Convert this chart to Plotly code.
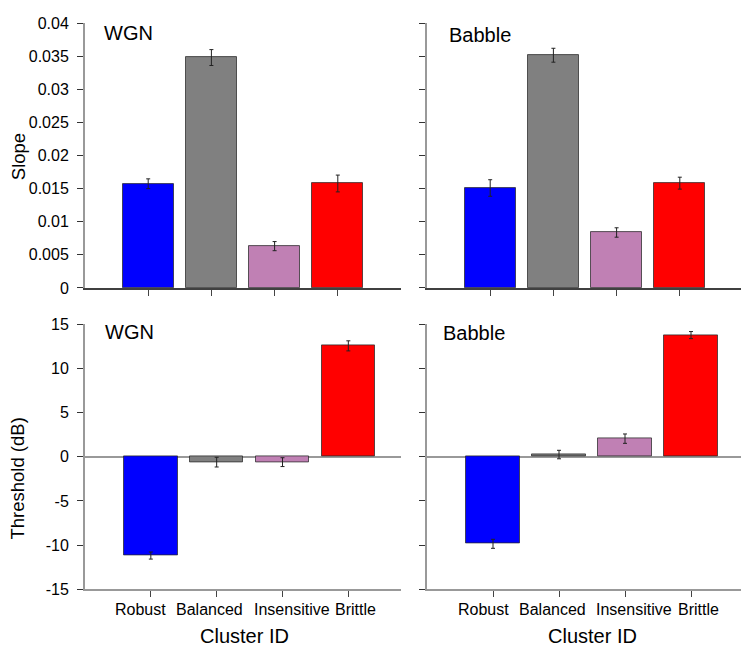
import plotly.graph_objects as go

categories = ["Robust", "Balanced", "Insensitive", "Brittle"]
colors = ["#0000FF", "#808080", "#C080B4", "#FF0000"]

slope_wgn = [0.01574, 0.0348, 0.00632, 0.01578]
slope_wgn_err = [0.00074, 0.0012, 0.00069, 0.00127]
slope_babble = [0.0151, 0.03515, 0.00838, 0.01583]
slope_babble_err = [0.00125, 0.00105, 0.00071, 0.0009]
thr_wgn = [-11.18, -0.6, -0.6, 12.57]
thr_wgn_err = [0.4, 0.55, 0.5, 0.57]
thr_babble = [-9.85, 0.26, 2.06, 13.79]
thr_babble_err = [0.51, 0.48, 0.53, 0.4]

slope_ticks = [0, 0.005, 0.01, 0.015, 0.02, 0.025, 0.03, 0.035, 0.04]
slope_ticktext = ["0", "0.005", "0.01", "0.015", "0.02", "0.025", "0.03", "0.035", "0.04"]
thr_ticks = [-15, -10, -5, 0, 5, 10, 15]

W, H = 749, 649
FONT = "Liberation Sans, Arial, sans-serif"
xpos = list(range(len(categories)))
# pixel nudges of the category labels (the original spreads them to avoid overlap)
label_shift = [-10, -7, 9, 7]

def px_x(p):
    return p / W

def px_y(p):
    return 1 - p / H

fig = go.Figure()

panels = [
    ("x", "y", slope_wgn, slope_wgn_err),
    ("x2", "y2", slope_babble, slope_babble_err),
    ("x3", "y3", thr_wgn, thr_wgn_err),
    ("x4", "y4", thr_babble, thr_babble_err),
]
for xa, ya, vals, errs in panels:
    fig.add_trace(go.Bar(
        x=xpos, y=vals, xaxis=xa, yaxis=ya, width=0.81,
        marker=dict(color=colors, line=dict(color="rgba(40,40,40,0.75)", width=1)),
        error_y=dict(type="data", array=errs, color="#222222", thickness=1, width=2),
        showlegend=False, hoverinfo="skip",
    ))

ydom_top = [px_y(279.3), px_y(7.3)]
ydom_bot = [px_y(588.7), px_y(316.7)]

def xax(domain, rng, anchor, linecolor):
    return dict(
        domain=domain, range=rng, anchor=anchor,
        tickvals=xpos, showticklabels=False,
        ticks="outside", ticklen=6, tickcolor="#444444", tickwidth=1,
        showline=True, linecolor=linecolor, linewidth=1.5,
        showgrid=False, zeroline=False,
    )

def yax(domain, rng, anchor, tickvals, ticktext, labels, zeroline):
    return dict(
        domain=domain, range=rng, anchor=anchor,
        tickvals=tickvals, ticktext=ticktext, showticklabels=labels,
        ticks="outside", ticklen=6, tickcolor="#333333", tickwidth=1,
        showline=True, linecolor="#999999", linewidth=2,
        showgrid=False, zeroline=zeroline, zerolinecolor="#999999", zerolinewidth=2,
        tickfont=dict(family=FONT, size=16, color="black"),
        ticklabelstandoff=5,
    )

fig.update_layout(
    width=W, height=H,
    margin=dict(l=0, r=0, t=0, b=0),
    paper_bgcolor="white", plot_bgcolor="white",
    bargap=0,
    xaxis=xax([px_x(77), px_x(393)], [-1, 4], "y", "#404040"),
    xaxis2=xax([px_x(419), px_x(735)], [-1, 4], "y2", "#404040"),
    xaxis3=xax([px_x(77), px_x(393)], [-1, 3.8], "y3", "#999999"),
    xaxis4=xax([px_x(419), px_x(749)], [-1, 4.0], "y4", "#999999"),
    yaxis=yax(ydom_top, [0, 0.04], "x", slope_ticks, slope_ticktext, True, False),
    yaxis2=yax(ydom_top, [0, 0.04], "x2", slope_ticks, slope_ticktext, False, False),
    yaxis3=yax(ydom_bot, [-15, 15], "x3", thr_ticks, [str(t) for t in thr_ticks], True, True),
    yaxis4=yax(ydom_bot, [-15, 15], "x4", thr_ticks, [str(t) for t in thr_ticks], False, True),
)

def ann(text, x, y, size, angle=0, xanchor="center"):
    fig.add_annotation(text=text, x=px_x(x), y=px_y(y), xref="paper", yref="paper",
                       showarrow=False, textangle=angle, xanchor=xanchor, yanchor="middle",
                       font=dict(family=FONT, size=size, color="black"))

# category labels under the bottom panels
for xa in ("x3", "x4"):
    for i, cat in enumerate(categories):
        fig.add_annotation(text=cat, x=xpos[i], xref=xa, y=px_y(609.5), yref="paper",
                           xshift=label_shift[i], showarrow=False,
                           xanchor="center", yanchor="middle",
                           font=dict(family=FONT, size=16, color="black"))

ann("WGN", 94, 17, 20, xanchor="left")
ann("Babble", 439, 19, 20, xanchor="left")
ann("WGN", 95, 325, 20, xanchor="left")
ann("Babble", 433, 326, 20, xanchor="left")
ann("Slope", 10, 145, 18.5, angle=-90)
ann("Threshold (dB)", 10, 475, 18.5, angle=-90)
ann("Cluster ID", 236, 637, 20)
ann("Cluster ID", 584, 637, 20)

fig.write_html("out.html")
